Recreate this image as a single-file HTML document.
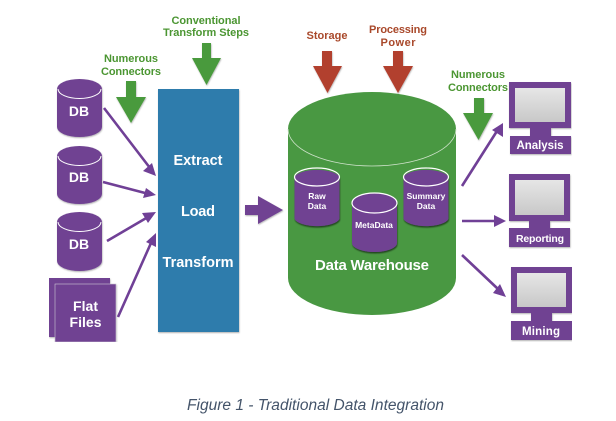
<!DOCTYPE html>
<html><head><meta charset="utf-8"><style>
html,body{margin:0;padding:0;background:#fff;width:616px;height:421px;overflow:hidden}
svg{display:block}
text{font-family:"Liberation Sans",sans-serif;font-weight:bold;text-anchor:middle}
.w{fill:#fff}.g{fill:#4c9633;font-size:11px}.r{fill:#a9482c;font-size:11px}
.p{fill:#6f4392}.ln{stroke:#6f3f96;stroke-width:2.6;fill:none}.ah{fill:#6f3f96}
</style></head><body>
<svg width="616" height="421" viewBox="0 0 616 421" xmlns="http://www.w3.org/2000/svg">
<defs>
<filter id="s" x="-20%" y="-20%" width="140%" height="140%"><feDropShadow dx="0.5" dy="1" stdDeviation="0.8" flood-color="#000" flood-opacity="0.3"/></filter>
<filter id="d" x="-20%" y="-20%" width="140%" height="140%"><feDropShadow dx="0.5" dy="1.5" stdDeviation="0.8" flood-color="#000" flood-opacity="0.55"/></filter>
<filter id="soft" x="0" y="0" width="100%" height="100%"><feGaussianBlur stdDeviation="0.35"/></filter>
<linearGradient id="sc" x1="0" y1="0" x2="0" y2="1"><stop offset="0" stop-color="#e6e6e6"/><stop offset="1" stop-color="#c8c8c8"/></linearGradient>
</defs>

<g filter="url(#soft)">
<!-- Top labels -->
<text class="g" x="131" y="62" textLength="54">Numerous</text>
<text class="g" x="131" y="75" textLength="60">Connectors</text>
<text class="g" x="206" y="24" textLength="69">Conventional</text>
<text class="g" x="206" y="36" textLength="86">Transform Steps</text>
<text class="r" x="327" y="39" textLength="41">Storage</text>
<text class="r" x="398" y="33" textLength="58">Processing</text>
<text class="r" x="398" y="46" textLength="35">Power</text>
<text class="g" x="478" y="78" textLength="54">Numerous</text>
<text class="g" x="478" y="91" textLength="60">Connectors</text>

<!-- Down arrows -->
<g filter="url(#s)" fill="#4a9a3c">
<path d="M126 81H136V97H146L131 123L116 97H126Z"/>
<path d="M202 43H211V58H221L206.500 85L192 58H202Z"/>
<path d="M474 98H484V113H493L478.500 140L463 113H474Z"/>
</g>
<g filter="url(#s)" fill="#b23f2e">
<path d="M322 51H332V66H342L327.500 93L313 66H322Z"/>
<path d="M393 51H403V66H413L398 93L383 66H393Z"/>
</g>

<!-- DB cylinders -->
<g filter="url(#s)">
<path class="p" d="M57 89A22.500 10 0 0 1 102 89V127A22.500 10 0 0 1 57 127Z"/>
<path class="p" d="M57 156A22.500 10 0 0 1 102 156V194A22.500 10 0 0 1 57 194Z"/>
<path class="p" d="M57 222A22.500 10 0 0 1 102 222V261A22.500 10 0 0 1 57 261Z"/>
</g>
<path d="M58 89A21.500 9.500 0 0 0 101 89M58 156A21.500 9.500 0 0 0 101 156M58 222A21.500 9.500 0 0 0 101 222" fill="none" stroke="#fff" stroke-width="1"/>
<text class="w" x="79" y="116" font-size="14">DB</text>
<text class="w" x="79" y="182" font-size="14">DB</text>
<text class="w" x="79" y="249" font-size="14">DB</text>

<!-- Flat files -->
<rect x="49" y="278" width="61" height="59" class="p" filter="url(#s)"/>
<rect x="55" y="284" width="61" height="58" class="p" stroke="#cfc8d6" stroke-width="0.6" filter="url(#s)"/>
<text class="w" x="85.500" y="311" font-size="14" textLength="25">Flat</text>
<text class="w" x="85.500" y="327" font-size="14" textLength="32">Files</text>

<!-- Left connectors -->
<path class="ln" d="M104 108L150 168M103 182L147 193.500M107 241L148 217M118 317L151 243"/>
<path class="ah" d="M156 176L143 171L152 163ZM156 195L143 198L146 188ZM156 212L148 223L142 213ZM156 233L156 247L146 242Z"/>

<!-- Blue box -->
<rect x="158" y="89" width="81" height="243" fill="#2e7cac" filter="url(#s)"/>
<text class="w" x="198" y="165" font-size="14.500" textLength="49">Extract</text>
<text class="w" x="198" y="216" font-size="14.500" textLength="34">Load</text>
<text class="w" x="198" y="267" font-size="14.500" textLength="71">Transform</text>

<!-- Middle arrow -->
<path class="p" d="M245 205H258V196L283 210L258 224V215H245Z" filter="url(#s)"/>

<!-- Warehouse -->
<path d="M288 129A84 37 0 0 1 456 129V278A84 37 0 0 1 288 278Z" fill="#4a9843"/>
<path d="M288 129A84 37 0 0 0 456 129" fill="none" stroke="#cfe3cb" stroke-width="0.8"/>
<g filter="url(#d)">
<path class="p" d="M294.500 177A23 9 0 0 1 339.500 177V219A23 9 0 0 1 294.500 219Z"/>
<path class="p" d="M352 203A22.500 10 0 0 1 397 203V243A22.500 9 0 0 1 352 243Z"/>
<path class="p" d="M403.500 177A23 9 0 0 1 448.500 177V219A23 9 0 0 1 403.500 219Z"/>
</g>
<g fill="none" stroke="#fff" stroke-width="1.2">
<ellipse cx="317" cy="177" rx="22.500" ry="9"/>
<ellipse cx="374.500" cy="203" rx="22.500" ry="10"/>
<ellipse cx="426" cy="177" rx="22.500" ry="9"/>
</g>
<text class="w" x="317" y="199" font-size="8.500">Raw</text>
<text class="w" x="317" y="209" font-size="8.500">Data</text>
<text class="w" x="374" y="228" font-size="8.500">MetaData</text>
<text class="w" x="426" y="199" font-size="8.500">Summary</text>
<text class="w" x="426" y="209" font-size="8.500">Data</text>
<text class="w" x="372" y="270" font-size="15" textLength="114">Data Warehouse</text>

<!-- Right connectors -->
<path class="ln" d="M462 186L497 131M462 221L495 221M462 255L498 289"/>
<path class="ah" d="M503 123L503 137L492 130ZM506 221L494 227V215ZM506 297L493 293L500 284Z"/>

<!-- Monitors -->
<g filter="url(#s)">
<rect x="509" y="82" width="62" height="46" class="p"/><rect x="530" y="128" width="21" height="8" class="p"/><rect x="510" y="136" width="61" height="18" class="p"/>
<rect x="509" y="174" width="61" height="47" class="p"/><rect x="529" y="221" width="21" height="7" class="p"/><rect x="509" y="228" width="61" height="19" class="p"/>
<rect x="511" y="267" width="61" height="46" class="p"/><rect x="531" y="313" width="21" height="8" class="p"/><rect x="511" y="321" width="61" height="19" class="p"/>
</g>
<rect x="515" y="88" width="50" height="34" fill="url(#sc)"/>
<rect x="515" y="180" width="49" height="35" fill="url(#sc)"/>
<rect x="517" y="273" width="49" height="34" fill="url(#sc)"/>
<text class="w" x="540" y="149" font-size="11.500" textLength="47">Analysis</text>
<text class="w" x="540" y="242" font-size="10.500" textLength="48">Reporting</text>
<text class="w" x="541" y="335" font-size="11.500" textLength="38">Mining</text>
</g>

<!-- Caption -->
<text x="315.500" y="410" font-size="15.500" style="font-weight:normal;font-style:italic" fill="#44546a" textLength="257">Figure 1 - Traditional Data Integration</text>
</svg>
</body></html>
